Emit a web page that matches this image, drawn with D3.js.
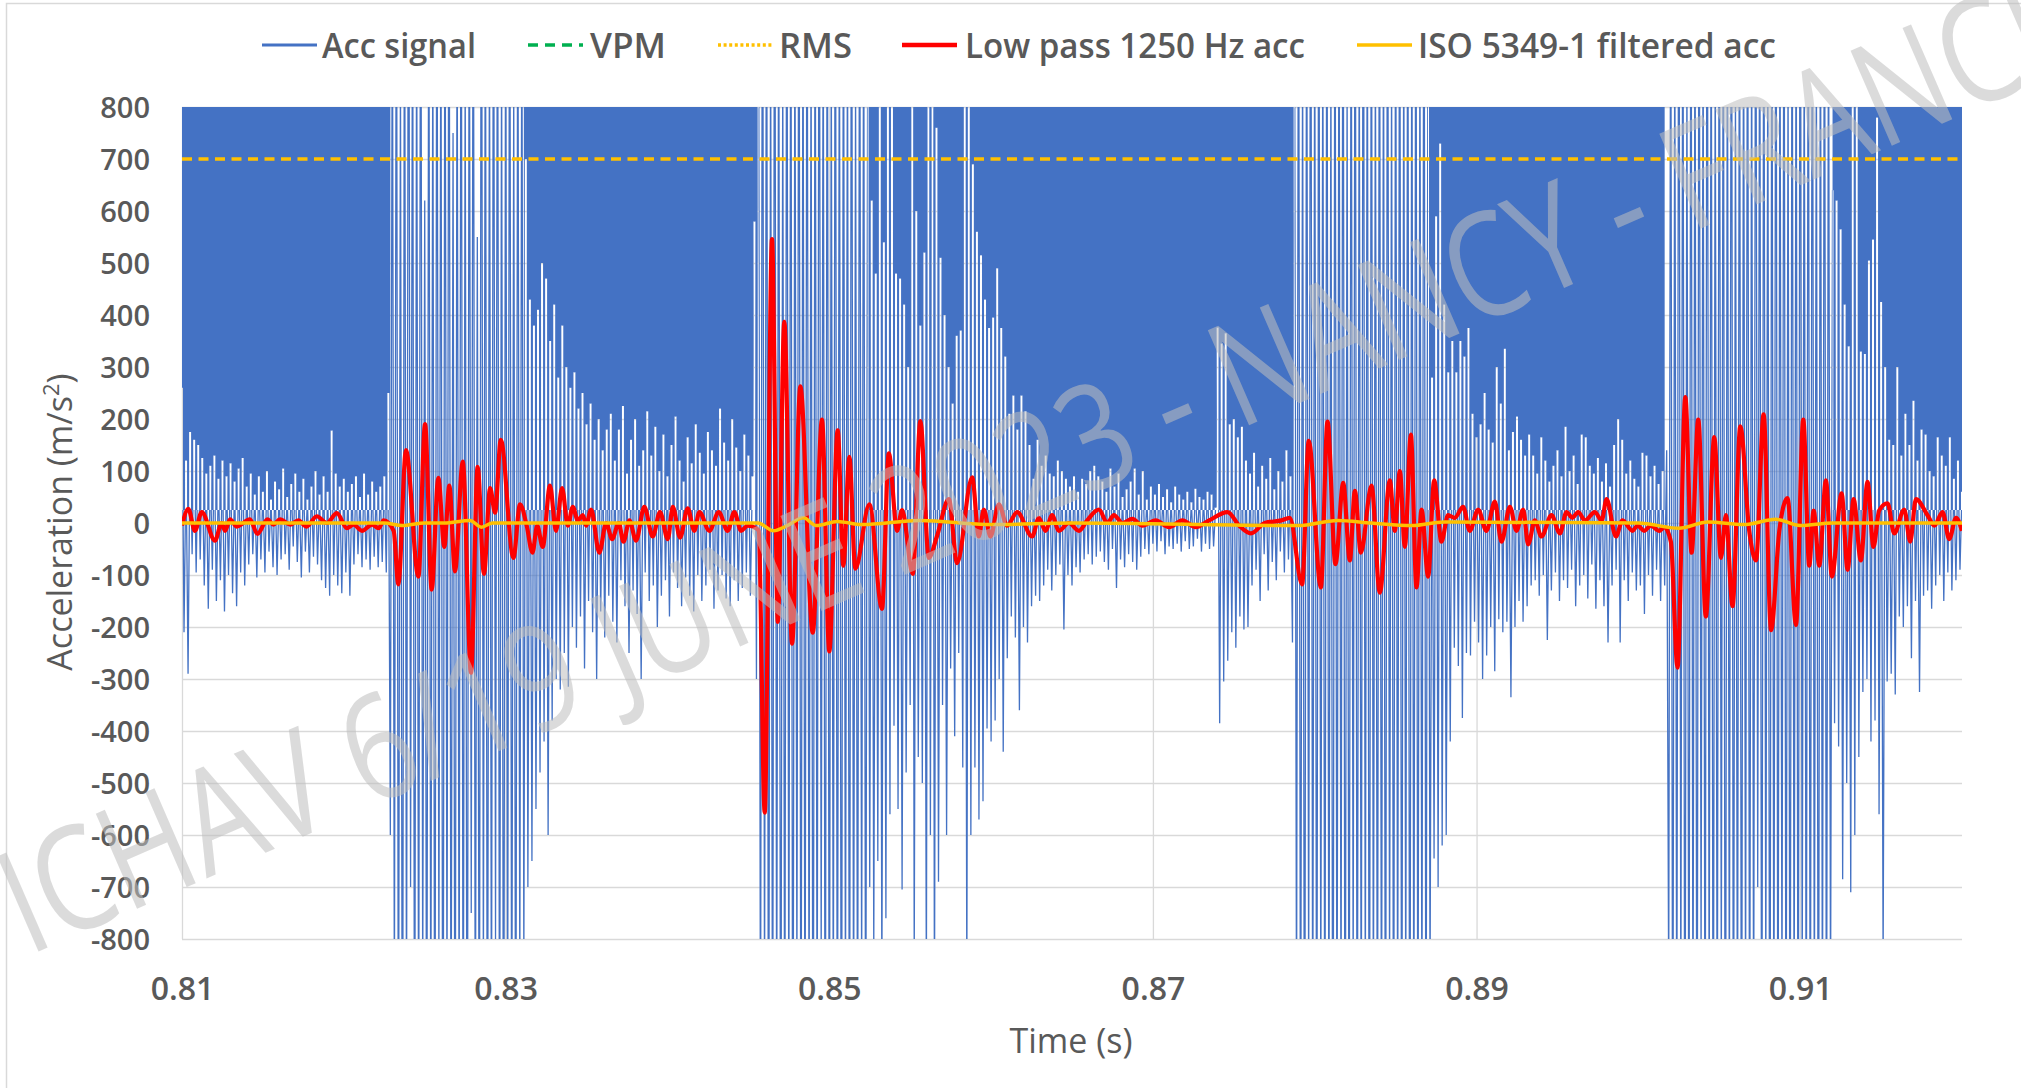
<!DOCTYPE html>
<html>
<head>
<meta charset="utf-8">
<script src="https://cdn.jsdelivr.net/npm/d3@7"></script>
<style>
  html, body { margin: 0; padding: 0; background: #fff; }
  svg { display: block; }
  text { font-family: 'Open Sans', 'DejaVu Sans', sans-serif; fill: #595959; }
</style>
</head>
<body>
<svg id="chart" width="2021" height="1088"></svg>
<script>
// ---- data ----

// raw acceleration, sampled every 0.125 ms from 0.81 s
const accStart = 0.81;
const accStep = 0.000125;
const accValues = [
  260, -210, 120, -290, 175, -60, 160, -95, 150, -70, 125, -120, 95, -165, 110, -90, 130, -150, 85, -110,
  120, -170, 90, -100, 115, -135, 80, -160, 105, -95, 125, -120, 70, -80, 95, -60, 55, -105, 90, -70,
  60, -95, 100, -55, 45, -85, 80, -100, 65, -70, 105, -60, 50, -90, 75, -45, 95, -75, 60, -105,
  85, -55, 45, -95, 70, -65, 100, -80, 55, -110, 90, -125, 60, -140, 178, -100, 95, -120, 70, -135,
  85, -95, 60, -140, 75, -80, 90, -60, 50, -85, 95, -70, 55, -90, 80, -65, 60, -85, 70, -75,
  90, -95, 250, -600, 1100, -950, 1300, -1200, 900, -1400, 1250, -1000, 1500, -700, 1150, -1300, 1050, -1100, 1400, -900,
  620, -1250, 1200, -1050, 980, -1350, 1300, -850, 1100, -1500, 1250, -950, 1400, -1150, 750, -1300, 1050, -1000, 1350, -1200,
  900, -1450, 1200, -750, 1300, -1100, 550, -1250, 1450, -900, 1150, -1350, 1000, -1050, 1300, -800, 1250, -1200, 950, -1400,
  1100, -1000, 1350, -1150, 850, -1300, 1200, -900, 1050, -850, 700, -700, 430, -650, 380, -550, 410, -480, 500, -420,
  470, -600, 350, -380, 420, -300, 280, -320, 380, -250, 300, -315, 260, -200, 290, -240, 220, -180, 250, -280,
  190, -150, 230, -210, 160, -300, 200, -170, 140, -220, 180, -140, 210, -190, 120, -230, 180, -110, 225, -160,
  95, -250, 160, -130, 200, -175, 110, -300, 140, -95, 215, -150, 130, -120, 185, -200, 100, -140, 170, -110,
  90, -180, 150, -95, 205, -125, 120, -160, 80, -105, 165, -140, 115, -170, 190, -100, 135, -150, 95, -120,
  175, -90, 140, -165, 110, -130, 220, -100, 155, -145, 120, -160, 200, -110, 145, -150, 100, -125, 170, -95,
  130, -140, 90, 580, -300, 1200, -1100, 1400, -950, 1300, -1350, 1000, -1250, 1500, -1050, 1150, -1400, 900, -1200, 1350,
  -1000, 1250, -1450, 1050, -900, 1400, -1300, 1100, -1150, 1300, -1000, 950, -1400, 1200, -1100, 1450, -850, 1050, -1300, 1250,
  -1200, 900, -1000, 1350, -1250, 1100, -1400, 1200, -950, 1000, -1300, 1400, -1050, 850, -1150, 1250, -900, 1100, -1200, 950,
  -700, 620, -820, 480, -650, 880, -900, 540, -760, 1050, -560, 1100, -390, 480, -550, 470, -705, 420, -480, 300,
  -350, 1200, -850, 600, -450, 380, -500, 520, -900, 1100, -600, 1300, -950, 760, -690, 510, -350, 400, -600, 300,
  -280, 230, -410, 360, -250, 370, -470, 1000, -900, 950, -600, 690, -470, 560, -570, 515, -535, 430, -395, 375,
  -420, 395, -380, 490, -300, 375, -440, 320, -260, 210, -180, 245, -220, 180, -360, 245, -200, 215, -230, 150,
  -160, 85, -140, 160, -150, 110, -120, 130, -90, 95, -130, 90, -100, 120, -80, 100, -205, 85, -100, 70,
  -120, 90, -85, 60, -95, 85, -70, 75, -60, 100, -80, 110, -65, 90, -55, 80, -75, 60, -90, 105,
  -50, 70, -125, 95, -70, 50, -85, 65, -60, 80, -75, 105, -90, 55, -65, 100, -50, 45, -60, 70,
  -40, 55, -55, 75, -35, 50, -60, 65, -45, 40, -50, 70, -40, 55, -55, 45, -35, 60, -50, 40,
  -45, 66, -30, 50, -55, 45, -40, 60, -50, 55, -45, 30, 376, -385, 345, -305, 365, -265, 190, -210,
  200, -240, 165, -180, 185, -205, 120, -200, 95, -120, 135, -90, 70, -150, 110, -60, 85, -130, 125, -75,
  65, -110, 100, -55, 80, -95, 140, -70, 90, -230, 1100, -1000, 1300, -1250, 950, -1400, 1200, -900, 1450, -1100,
  1050, -1300, 1350, -950, 1000, -1200, 1250, -1050, 900, -1450, 1300, -1150, 1150, -1000, 1400, -1350, 850, -1250, 1200, -900,
  1350, -1300, 1000, -1100, 1450, -950, 1100, -1400, 1250, -1000, 950, -1200, 1300, -1150, 1050, -1350, 1400, -900, 900, -1250,
  1200, -1050, 1350, -1300, 1000, -950, 1250, -1400, 1100, -1100, 1300, -1200, 950, -1000, 1400, -1250, 1050, -900, 280, -645,
  590, -700, 730, -620, 420, -600, 290, -420, 350, -240, 290, -275, 350, -375, 320, -250, 375, -255, 210, -190,
  165, -230, 190, -300, 250, -255, 180, -200, 155, -285, 300, -185, 230, -210, 335, -190, 140, -335, 175, -200,
  205, -150, 160, -190, 130, -160, 170, -120, 130, -110, 95, -140, 165, -100, 120, -225, 80, -130, 110, -95,
  140, -150, 90, -110, 185, -125, 100, -90, 130, -160, 75, -120, 170, -100, 165, -145, 110, -80, 95, -165,
  125, -110, 80, -160, 115, -230, 70, -120, 150, -90, 200, -230, 160, -110, 95, -150, 120, -95, 85, -130,
  70, -120, 135, -175, 130, -100, 90, -140, 110, -90, 75, -150, 100, -120, 140, -900, 1200, -1300, 1000, -1100,
  1400, -950, 1250, -1350, 900, -1200, 1300, -1050, 1100, -1400, 1350, -850, 1000, -1250, 1450, -1000, 1150, -1300, 950, -1150,
  1300, -900, 1200, -1450, 1050, -1000, 1400, -1250, 850, -1100, 1250, -1350, 1100, -950, 1300, -1200, 1000, -1050, 1350, -700,
  1150, -1300, 1250, -900, 950, -1400, 1200, -1100, 1400, -1250, 1050, -950, 1300, -1200, 900, -1300, 1200, -1000, 1100, -1350,
  1450, -900, 1000, -1150, 1250, -1250, 1350, -1000, 950, -1400, 1150, -1050, 1300, -1200, 1100, -950, 640, -385, 620, -430,
  565, -685, 420, -500, 340, -710, 900, -600, 1000, -450, 330, -325, 325, -300, 505, -420, 545, -380, 780, -560,
  425, -850, 300, -305, 160, -290, 150, -330, 300, -180, 130, -200, 210, -160, 150, -260, 235, -150, 120, -325,
  180, -140, 170, -130, 100, -165, 90, -120, 165, -100, 130, -150, 110, -95, 165, -130, 85, -110, 120, -90,
  60
];

// stretches where the raw trace saturates the top band (no blue fill there)
const denseStart = [0.8230, 0.8457, 0.8788, 0.9017];
const denseEnd = [0.8311, 0.8523, 0.8869, 0.9119];

// low pass 1250 Hz: turning points
const lowPassT = [
  0.8100, 0.81039, 0.8108, 0.81122, 0.81204, 0.81245, 0.81266, 0.81297, 0.81338, 0.8142,
  0.81466, 0.81528, 0.81565, 0.81606, 0.81668, 0.81719, 0.8177, 0.81833, 0.81895, 0.81957,
  0.82019, 0.8206, 0.82112, 0.82174, 0.82215, 0.82246, 0.82308, 0.82337, 0.82384, 0.82461,
  0.82502, 0.82543, 0.82584, 0.82621, 0.82652, 0.82687, 0.82735, 0.82786, 0.82827, 0.82866,
  0.82904, 0.82935, 0.8297, 0.83048, 0.83089, 0.8313, 0.83166, 0.83195, 0.83229, 0.83274,
  0.83311, 0.83349, 0.83384, 0.83415, 0.83446, 0.83477, 0.83497, 0.83528, 0.83579, 0.83621,
  0.83658, 0.83699, 0.83728, 0.83765, 0.83806, 0.83857, 0.83909, 0.83954, 0.84002, 0.84033,
  0.84078, 0.84125, 0.84166, 0.84197, 0.84259, 0.84317, 0.84372, 0.84413, 0.84455, 0.84496,
  0.84548, 0.84564, 0.84601, 0.84646, 0.84682, 0.84722, 0.8477, 0.84821, 0.84898, 0.84955,
  0.85, 0.85052, 0.85087, 0.85124, 0.85161, 0.85248, 0.85326, 0.85368, 0.85419, 0.8545,
  0.85516, 0.85563, 0.85615, 0.85666, 0.85739, 0.8579, 0.85883, 0.85924, 0.85955, 0.85996,
  0.86048, 0.86099, 0.86161, 0.86254, 0.86295, 0.86336, 0.86377, 0.86419, 0.86481, 0.86543,
  0.86594, 0.86666, 0.86718, 0.86759, 0.86811, 0.86873, 0.86935, 0.87017, 0.871, 0.87182,
  0.87265, 0.87347, 0.87461, 0.87533, 0.87606, 0.87691, 0.87794, 0.87846, 0.87922, 0.87963,
  0.88038, 0.88079, 0.88128, 0.88176, 0.88217, 0.88248, 0.88285, 0.88351, 0.88402, 0.88464,
  0.88495, 0.88526, 0.88557, 0.88594, 0.88629, 0.8866, 0.88701, 0.88738, 0.88783, 0.88824,
  0.88865, 0.88917, 0.88958, 0.8901, 0.89061, 0.89113, 0.89154, 0.89206, 0.89247, 0.89288,
  0.89319, 0.8936, 0.89401, 0.89463, 0.89515, 0.89556, 0.89592, 0.89628, 0.8967, 0.89731,
  0.89773, 0.89804, 0.89861, 0.89902, 0.89964, 0.89995, 0.90036, 0.90077, 0.90129, 0.9016,
  0.90201, 0.90242, 0.9029, 0.90329, 0.9037, 0.90417, 0.90469, 0.9051, 0.90541, 0.90582,
  0.9063, 0.90685, 0.90727, 0.90774, 0.9082, 0.90871, 0.90922, 0.90974, 0.91019, 0.91056,
  0.91083, 0.91118, 0.91159, 0.91196, 0.91256, 0.91293, 0.9133, 0.91375, 0.91416, 0.91453,
  0.91488, 0.9154, 0.91581, 0.91643, 0.9168, 0.91715, 0.91787, 0.91829, 0.9188, 0.91921,
  0.91963, 0.92
];
const lowPassV = [
  -5, 27, -15, 21, -34, 0, -15, 7, -7, 7,
  -21, 7, -3, 7, -3, 5, -7, 13, 0, 19,
  -10, -3, -15, -3, -10, 5, -15, -118, 140, -103,
  190, -128, 87, -46, 72, -93, 118, -288, 108, -98,
  67, 20, 160, -67, 36, -5, -57, -5, -46, 72,
  -15, 67, -5, 31, 5, 15, -5, 26, -57, 0,
  -31, 0, -36, 5, -34, 31, -26, 21, -31, 31,
  -28, 28, -15, 21, -15, 21, -15, 21, -15, -5,
  -10, -15, -557, 546, -190, 387, -232, 263, -211, 199,
  -247, 178, -82, 127, -88, 36, -165, 134, -15, 25,
  -98, 196, -67, -25, 46, -77, 88, -26, 26, -26,
  36, -5, 21, -26, 10, -15, 15, -15, 0, -15,
  5, 26, 0, 15, 0, 8, -5, 5, -8, 5,
  -8, 5, 21, -5, -20, 0, 5, 10, -118, 158,
  -124, 195, -79, 77, -72, 62, -57, 72, -134, 82,
  -15, 100, -46, 170, -124, 26, -103, 82, -36, 15,
  10, 31, -15, 26, -15, 41, -36, 31, -15, 26,
  -41, 5, -26, 15, -20, 21, 10, 21, 5, 21,
  5, 46, -26, 5, -15, -5, -15, -5, -15, -8,
  -36, -278, 242, -57, 199, -180, 165, -67, 15, -160,
  186, -15, -72, 209, -206, -15, 48, -196, 199, -82,
  24, -82, 82, -103, 57, -90, 46, -72, 79, -46,
  24, 38, -20, 26, -36, 46, 15, -5, 21, -31,
  10, -15
];

// ISO 5349-1 weighted acceleration
const isoT = [0.81, 0.8225, 0.8236, 0.825, 0.8262, 0.8278, 0.8285, 0.8292, 0.83, 0.8456,
  0.84655, 0.8474, 0.8484, 0.8492, 0.8505, 0.852, 0.8556, 0.86, 0.865, 0.879,
  0.8814, 0.8835, 0.886, 0.888, 0.9, 0.9025, 0.9043, 0.9065, 0.9085, 0.91, 0.912, 0.92];
const isoV = [0, 0, -5, 0, 0, 5, -8, 0, 0, 0,
  -15, -5, 10, -5, 3, -3, 5, -3, 0, -5,
  5, 0, -5, 2, 0, -10, 2, -3, 7, -5, 0, 0];

const rmsT = [0.81, 0.92];
const rmsV = [700, 700];
const vpmT = [0.81, 0.92];
const vpmV = [1520, 1520]; // above the plotted range

const xTicks = [0.81, 0.83, 0.85, 0.87, 0.89, 0.91];
const yTicks = [-800, -700, -600, -500, -400, -300, -200, -100, 0, 100, 200, 300, 400, 500, 600, 700, 800];

const legendItems = ['Acc signal', 'VPM', 'RMS', 'Low pass 1250 Hz acc', 'ISO 5349-1 filtered acc'];

// ---- drawing ----
const W = 2021, H = 1088;
const plot = { left: 182, right: 1962, top: 107, bottom: 939 };
const blue = '#4472C4';
const gridColor = '#d9d9d9';

const svg = d3.select('#chart');
const defs = svg.append('defs');

const x = d3.scaleLinear().domain([0.81, 0.92]).range([plot.left, plot.right]);
const y = d3.scaleLinear().domain([-800, 800]).range([plot.bottom, plot.top]);

// chart frame
svg.append('rect')
  .attr('x', 6.5).attr('y', 3.5)
  .attr('width', W + 20).attr('height', H + 20)
  .attr('fill', 'none').attr('stroke', gridColor).attr('stroke-width', 1.5);

defs.append('clipPath').attr('id', 'plotClip')
  .append('rect')
  .attr('x', plot.left).attr('y', plot.top)
  .attr('width', plot.right - plot.left).attr('height', plot.bottom - plot.top);

function drawGrid(parent) {
  const gy = parent.append('g')
    .attr('transform', `translate(${plot.left},0)`)
    .call(d3.axisLeft(y).tickValues(yTicks).tickSize(-(plot.right - plot.left)).tickFormat(''));
  gy.select('.domain').remove();
  gy.selectAll('line').attr('stroke', gridColor).attr('stroke-width', 1.3);

  const gx = parent.append('g')
    .attr('transform', `translate(0,${plot.bottom})`)
    .call(d3.axisBottom(x).tickValues(xTicks).tickSize(-(plot.bottom - plot.top)).tickFormat(''));
  gx.select('.domain').remove();
  gx.selectAll('line').attr('stroke', gridColor).attr('stroke-width', 1.3);
}

drawGrid(svg.append('g'));

// series
const acc = accValues.map((v, i) => ({ t: accStart + i * accStep, v }));
const inDense = t => denseStart.some((s, k) => t >= s && t <= denseEnd[k]);
const fillFloor = 25;
const edge = d => y(Math.min(800, Math.max(d.v, fillFloor)));

const layer = svg.append('g').attr('clip-path', 'url(#plotClip)');

// the raw trace
const accLine = d3.line().x(d => x(d.t)).y(d => y(d.v));
layer.append('path').datum(acc)
  .attr('d', accLine)
  .attr('fill', 'none').attr('stroke', blue).attr('stroke-width', 1.3);

// upper band: blue above the trace, white peaks cut into it
const spikeArea = d3.area()
  .curve(d3.curveStep)
  .defined(d => !inDense(d.t))
  .x(d => x(d.t))
  .y0(y(fillFloor))
  .y1(edge);
const bandArea = d3.area()
  .curve(d3.curveStep)
  .defined(d => !inDense(d.t))
  .x(d => x(d.t))
  .y0(y(800))
  .y1(edge);

layer.append('path').datum(acc).attr('d', spikeArea).attr('fill', '#fff');
defs.append('clipPath').attr('id', 'spikeClip')
  .append('path').datum(acc).attr('d', spikeArea);
drawGrid(layer.append('g').attr('clip-path', 'url(#spikeClip)'));
layer.append('path').datum(acc).attr('d', bandArea).attr('fill', blue);

const pairs = (ts, vs) => ts.map((t, i) => ({ t, v: vs[i] }));
const smooth = d3.line().curve(d3.curveMonotoneX).x(d => x(d.t)).y(d => y(d.v));
const straight = d3.line().x(d => x(d.t)).y(d => y(d.v));

layer.append('path').datum(pairs(vpmT, vpmV))
  .attr('d', straight)
  .attr('fill', 'none').attr('stroke', '#00B050').attr('stroke-width', 3).attr('stroke-dasharray', '10,7');

layer.append('path').datum(pairs(lowPassT, lowPassV))
  .attr('d', smooth)
  .attr('fill', 'none').attr('stroke', '#FF0000').attr('stroke-width', 4.2)
  .attr('stroke-linejoin', 'round');

layer.append('path').datum(pairs(isoT, isoV))
  .attr('d', smooth)
  .attr('fill', 'none').attr('stroke', '#FFC000').attr('stroke-width', 3.5);

layer.append('path').datum(pairs(rmsT, rmsV))
  .attr('d', straight)
  .attr('fill', 'none').attr('stroke', '#FFC000').attr('stroke-width', 3.5).attr('stroke-dasharray', '10,6.5');

// axes labels
const yAxis = svg.append('g')
  .attr('transform', `translate(150,0)`)
  .call(d3.axisLeft(y).tickValues(yTicks).tickSize(0).tickPadding(0).tickFormat(d => String(d)));
yAxis.select('.domain').remove();
yAxis.selectAll('text')
  .attr('font-size', 29).attr('font-weight', 600)
  .attr('dy', '0.36em')
  .style('fill', '#595959');

const xAxis = svg.append('g')
  .attr('transform', `translate(0,${plot.bottom})`)
  .call(d3.axisBottom(x).tickValues(xTicks).tickSize(0).tickPadding(0).tickFormat(d3.format('.2f')));
xAxis.select('.domain').remove();
xAxis.selectAll('text')
  .attr('y', 61).attr('dy', 0)
  .attr('font-size', 32).attr('font-weight', 600)
  .style('fill', '#595959');

svg.append('text')
  .attr('x', 1071).attr('y', 1053)
  .attr('text-anchor', 'middle')
  .attr('font-size', 34)
  .text('Time (s)');

const yTitle = svg.append('text')
  .attr('transform', 'translate(72,522) rotate(-90)')
  .attr('text-anchor', 'middle')
  .attr('font-size', 34);
yTitle.append('tspan').text('Acceleration (m/s');
yTitle.append('tspan').attr('font-size', 22).attr('dy', -13).text('2');
yTitle.append('tspan').attr('dy', 13).text(')');

// legend
const legendX = [262, 528, 718, 902, 1357];
const legendTextX = [322, 590, 779, 965, 1418];
const legendW = [154, 76, 73, 340, 358];
const legendStyle = [
  { stroke: blue, dash: null, w: 3 },
  { stroke: '#00B050', dash: '10,7', w: 3.5 },
  { stroke: '#FFC000', dash: '3,2.6', w: 3.5 },
  { stroke: '#FF0000', dash: null, w: 4.5 },
  { stroke: '#FFC000', dash: null, w: 3.5 }
];
const legend = svg.append('g');
legendItems.forEach((name, i) => {
  legend.append('line')
    .attr('x1', legendX[i]).attr('x2', legendX[i] + 55)
    .attr('y1', 45).attr('y2', 45)
    .attr('stroke', legendStyle[i].stroke)
    .attr('stroke-width', legendStyle[i].w)
    .attr('stroke-dasharray', legendStyle[i].dash);
  legend.append('text')
    .attr('x', legendTextX[i]).attr('y', 58)
    .attr('font-size', 34).attr('font-weight', 600)
    .attr('textLength', legendW[i]).attr('lengthAdjust', 'spacingAndGlyphs')
    .text(name);
});

// watermark
svg.append('text')
  .attr('transform', 'translate(28,956) rotate(-23.5)')
  .attr('font-size', 145)
  .attr('textLength', 2250).attr('lengthAdjust', 'spacingAndGlyphs')
  .style('fill', '#bfbfbf').style('opacity', 0.55)
  .text('ICHAV 6/19 JUNE 2023 - NANCY - FRANCE');
</script>
</body>
</html>
